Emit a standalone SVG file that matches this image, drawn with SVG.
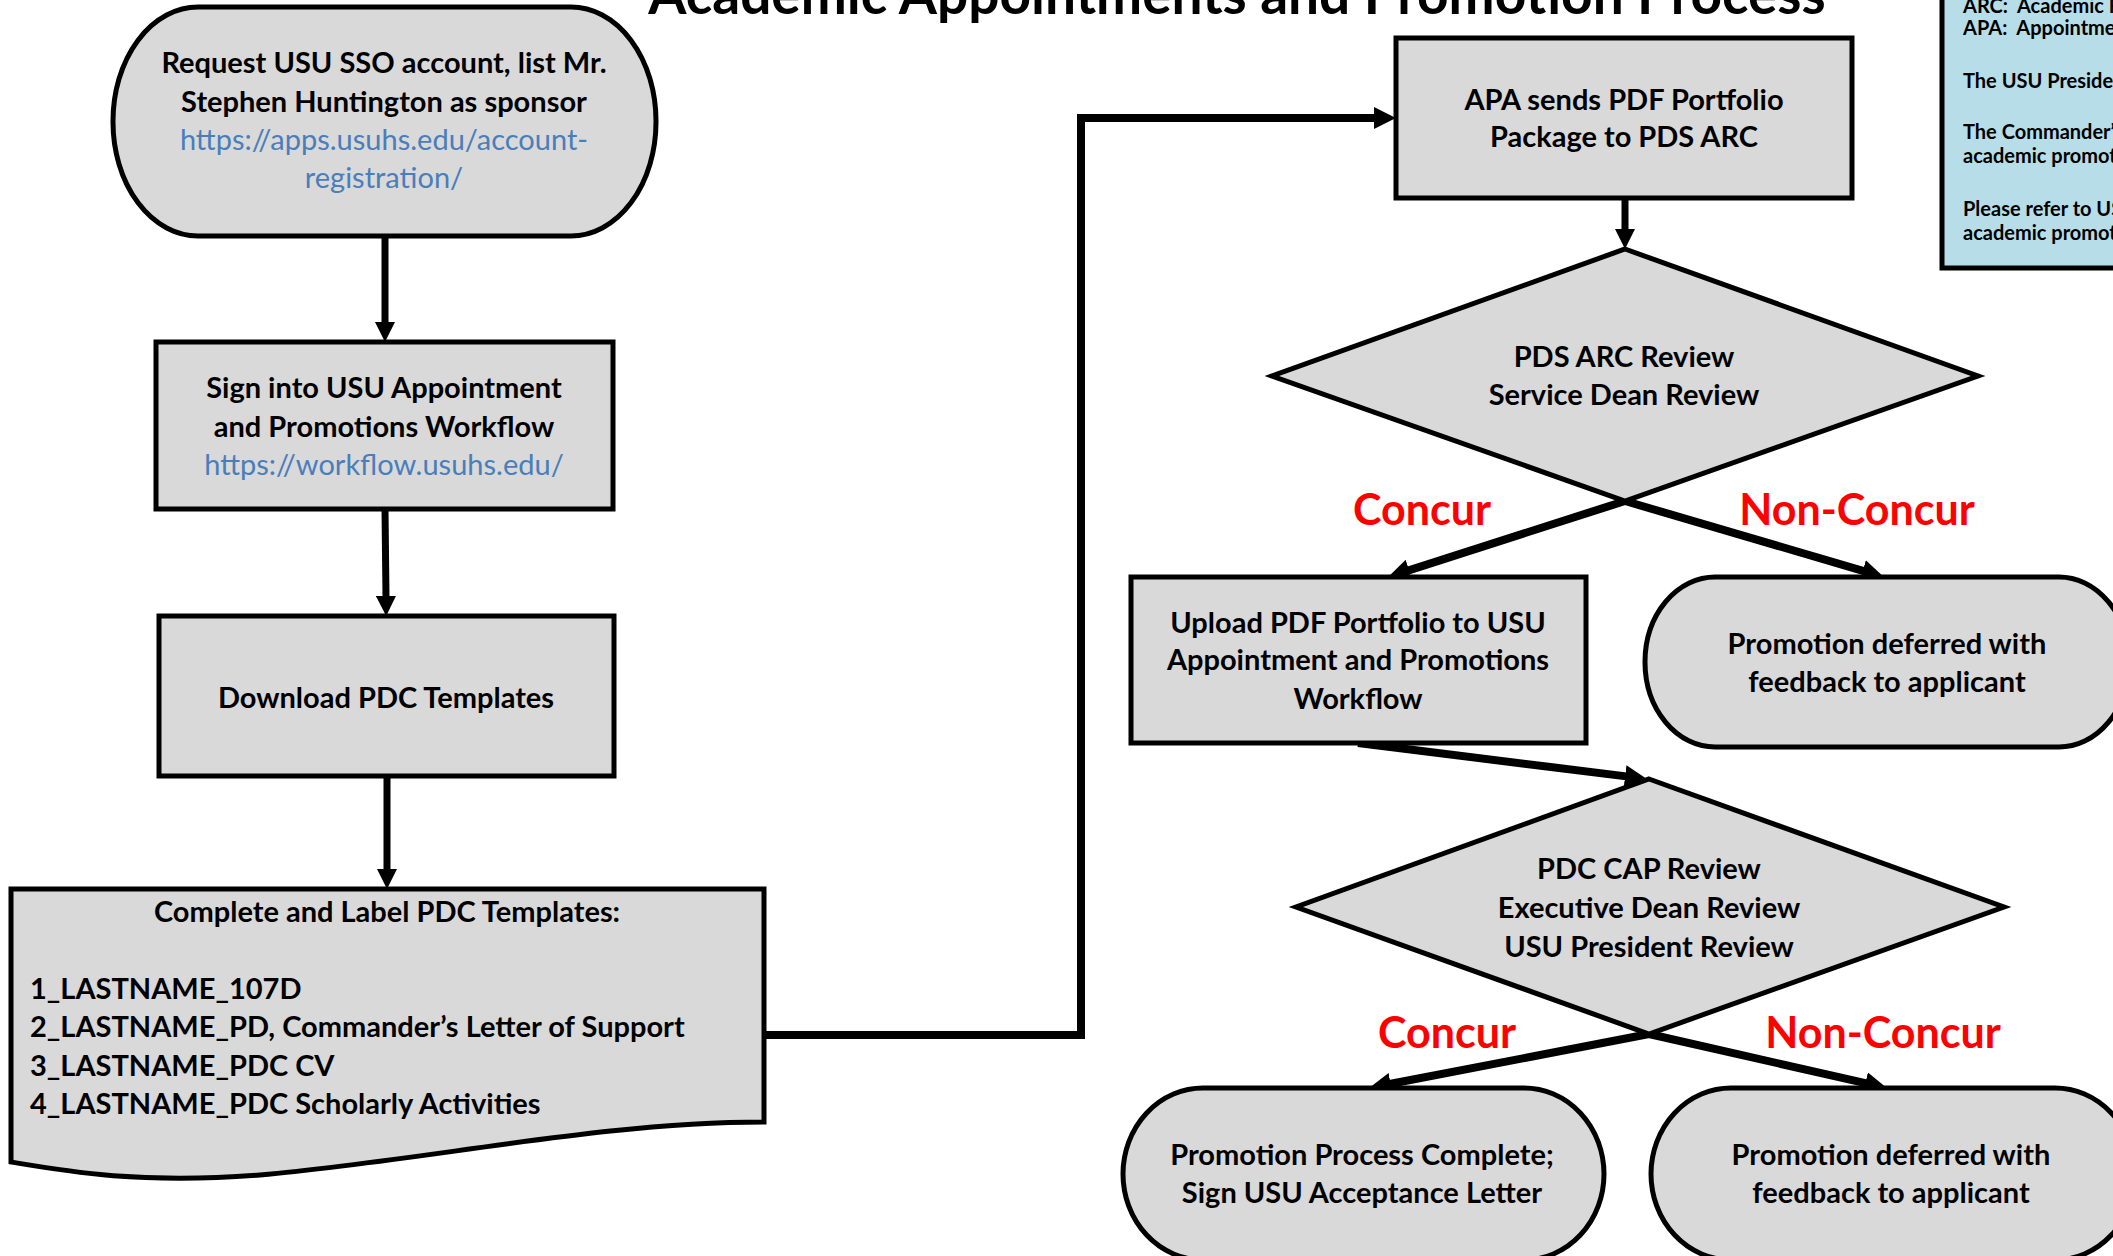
<svg xmlns="http://www.w3.org/2000/svg" width="2113" height="1256" viewBox="0 0 2113 1256">
<style>
.n{fill:#d9d9d9;stroke:#000;stroke-width:5}
.t{font-family:Lato,"Liberation Sans",sans-serif;font-weight:bold;font-size:29px;fill:#000;text-anchor:middle}
.s{text-anchor:start}
.l{fill:#4a7ebb;font-weight:normal}
.r{font-family:Lato,"Liberation Sans",sans-serif;font-weight:bold;font-size:43px;fill:#ff0000;text-anchor:middle}
.g{font-family:Lato,"Liberation Sans",sans-serif;font-weight:bold;font-size:20px;fill:#000}
.c{fill:none;stroke:#000;stroke-width:7}
.cb{fill:none;stroke:#000;stroke-width:8}
</style>
<defs>
<marker id="as" viewBox="0 0 10 10" refX="0.5" refY="5" markerWidth="20" markerHeight="20" markerUnits="userSpaceOnUse" orient="auto"><path d="M0,0 L10,5 L0,10 Z" fill="#000"/></marker>
<marker id="ab" viewBox="0 0 10 10" refX="0.5" refY="5" markerWidth="22" markerHeight="22" markerUnits="userSpaceOnUse" orient="auto"><path d="M0,0 L10,5 L0,10 Z" fill="#000"/></marker>
</defs>
<rect width="2113" height="1256" fill="#fff"/>
<text x="1237" y="14" style="font-family:Lato,'Liberation Sans',sans-serif;font-weight:bold;font-size:55px;text-anchor:middle">Academic Appointments and Promotion Process</text>

<g id="connectors">
<path class="c" d="M385,236 V323" marker-end="url(#as)"/>
<path class="c" d="M385,509 L386,597" marker-end="url(#as)"/>
<path class="c" d="M387,776 V870" marker-end="url(#as)"/>
<path class="cb" d="M764,1035 H1081 V118 H1375" marker-end="url(#ab)"/>
<path class="c" d="M1625,198 V230" marker-end="url(#as)"/>
<path class="cb" d="M1625,501 L1408,570.6" marker-end="url(#ab)"/>
<path class="cb" d="M1625,501 L1863.8,571.1" marker-end="url(#ab)"/>
<path class="cb" d="M1358,743 L1626.2,776.4" marker-end="url(#ab)"/>
<path class="cb" d="M1649,1034 L1389.6,1084" marker-end="url(#ab)"/>
<path class="cb" d="M1649,1034 L1866.5,1083.4" marker-end="url(#ab)"/>
</g>

<g id="legend">
<rect x="1942" y="-10" width="200" height="278" fill="#b7dde8" stroke="#000" stroke-width="5"/>
<text class="g" x="1963" y="13">ARC:&#160; Academic R</text>
<text class="g" x="1963" y="35">APA:&#160; Appointme</text>
<text class="g" x="1963" y="88">The USU Presiden</text>
<text class="g" x="1963" y="139">The Commander’</text>
<text class="g" x="1963" y="163">academic promot</text>
<text class="g" x="1963" y="216">Please refer to US</text>
<text class="g" x="1963" y="240">academic promot</text>
</g>

<g id="request-sso">
<rect class="n" x="113" y="7" width="543" height="229" rx="85" ry="114"/>
<text class="t" x="384" y="73">Request USU SSO account, list Mr.</text>
<text class="t" x="384" y="112">Stephen Huntington as sponsor</text>
<text class="t l" x="384" y="150">https://apps.usuhs.edu/account-</text>
<text class="t l" x="384" y="188">registration/</text>
</g>

<g id="sign-in">
<rect class="n" x="156" y="342" width="457" height="167"/>
<text class="t" x="384" y="398">Sign into USU Appointment</text>
<text class="t" x="384" y="437">and Promotions Workflow</text>
<text class="t l" x="384" y="475">https://workflow.usuhs.edu/</text>
</g>

<g id="download">
<rect class="n" x="159" y="616" width="455" height="160"/>
<text class="t" x="386" y="708">Download PDC Templates</text>
</g>

<g id="complete-label">
<path class="n" d="M11,889 H764 V1122 C600,1122 430,1160 260,1175 C140,1184 70,1172 11,1162 Z"/>
<text class="t" x="387" y="922">Complete and Label PDC Templates:</text>
<text class="t s" x="30" y="999">1_LASTNAME_107D</text>
<text class="t s" x="30" y="1037">2_LASTNAME_PD, Commander’s Letter of Support</text>
<text class="t s" x="30" y="1076">3_LASTNAME_PDC CV</text>
<text class="t s" x="30" y="1114">4_LASTNAME_PDC Scholarly Activities</text>
</g>

<g id="apa-sends">
<rect class="n" x="1396" y="38" width="456" height="160"/>
<text class="t" x="1624" y="110">APA sends PDF Portfolio</text>
<text class="t" x="1624" y="147">Package to PDS ARC</text>
</g>

<g id="pds-arc-review">
<polygon class="n" points="1625,249 1978,376 1625,501 1272,376"/>
<text class="t" x="1624" y="367">PDS ARC Review</text>
<text class="t" x="1624" y="405">Service Dean Review</text>
</g>

<g id="labels-1">
<text class="r" x="1422" y="525">Concur</text>
<text class="r" x="1857" y="525">Non-Concur</text>
</g>

<g id="upload">
<rect class="n" x="1131" y="577" width="455" height="166"/>
<text class="t" x="1358" y="633">Upload PDF Portfolio to USU</text>
<text class="t" x="1358" y="670">Appointment and Promotions</text>
<text class="t" x="1358" y="709">Workflow</text>
</g>

<g id="deferred-1">
<rect class="n" x="1645" y="577" width="484" height="170" rx="70" ry="85"/>
<text class="t" x="1887" y="654">Promotion deferred with</text>
<text class="t" x="1887" y="692">feedback to applicant</text>
</g>

<g id="pdc-cap-review">
<polygon class="n" points="1649,779 2004,907 1649,1034 1296,907"/>
<text class="t" x="1649" y="879">PDC CAP Review</text>
<text class="t" x="1649" y="918">Executive Dean Review</text>
<text class="t" x="1649" y="957">USU President Review</text>
</g>

<g id="labels-2">
<text class="r" x="1447" y="1048">Concur</text>
<text class="r" x="1883" y="1048">Non-Concur</text>
</g>

<g id="process-complete">
<rect class="n" x="1123" y="1088" width="481" height="172" rx="80" ry="86"/>
<text class="t" x="1362" y="1165">Promotion Process Complete;</text>
<text class="t" x="1362" y="1203">Sign USU Acceptance Letter</text>
</g>

<g id="deferred-2">
<rect class="n" x="1651" y="1088" width="484" height="172" rx="80" ry="86"/>
<text class="t" x="1891" y="1165">Promotion deferred with</text>
<text class="t" x="1891" y="1203">feedback to applicant</text>
</g>
</svg>
